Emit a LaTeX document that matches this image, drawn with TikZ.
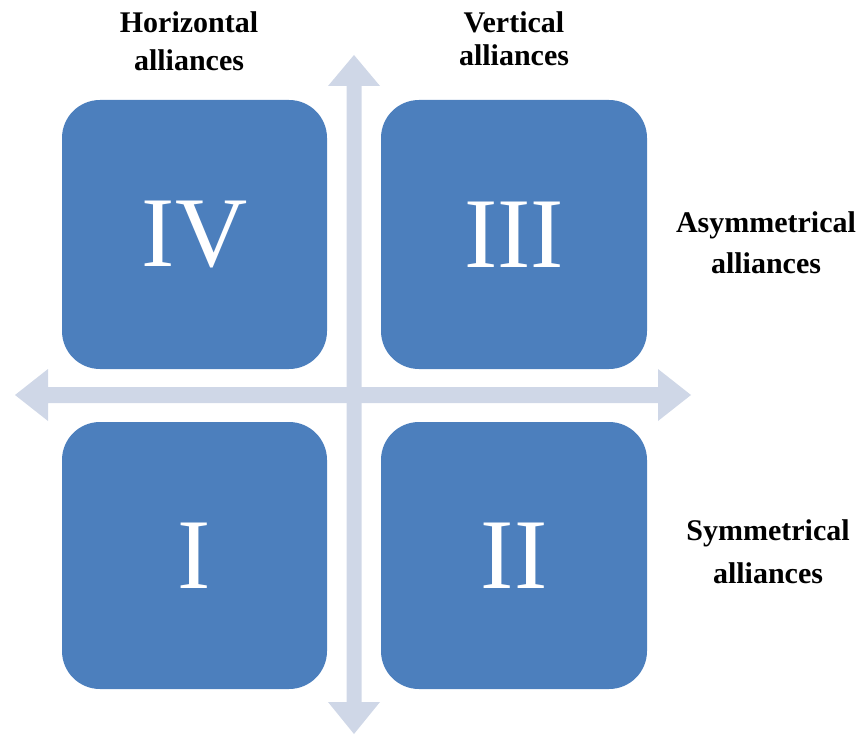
\documentclass[tikz,border=0pt]{standalone}
\usepackage{fontspec}
\setmainfont{Liberation Serif}
\definecolor{boxblue}{HTML}{4C7FBD}
\definecolor{axisgray}{HTML}{CFD7E7}
\begin{document}
\begin{tikzpicture}[x=1pt,y=-1pt,
  quad/.style={fill=boxblue, draw=none, rounded corners=38pt, inner sep=0pt,
    text=white, font=\fontsize{100}{100}\selectfont},
  lbl/.style={inner sep=0pt, align=center, text=black},
  axis/.style={fill=axisgray, draw=none}]
\useasboundingbox (0,0) rectangle (864,735);
% axes
\fill[axis] (354,55) -- (380,86) -- (361.5,86) -- (361.5,702) -- (380,702) -- (354,734)
  -- (328,702) -- (346.5,702) -- (346.5,86) -- (328,86) -- cycle;
\fill[axis] (15,395) -- (48,369) -- (48,387) -- (658,387) -- (658,369) -- (691,395)
  -- (658,421) -- (658,403) -- (48,403) -- (48,421) -- cycle;
% quadrants
\node[quad, minimum width=265pt, minimum height=269pt] (q4) at (194.5,234.5) {IV};
\node[quad, minimum width=266pt, minimum height=269pt] (q3) at (514,234.5) {III};
\node[quad, minimum width=265pt, minimum height=267pt] (q1) at (194.5,555.5) {I};
\node[quad, minimum width=266pt, minimum height=267pt] (q2) at (514,555.5) {II};
% labels
\node[lbl, font=\fontsize{30}{38}\selectfont\bfseries] (h) at (189,40.75) {Horizontal\\alliances};
\node[lbl, font=\fontsize{30}{33}\selectfont\bfseries] (v) at (514,38.25) {Vertical\\alliances};
\node[lbl, font=\fontsize{30}{41}\selectfont\bfseries] (a) at (766,242.25) {Asymmetrical\\alliances};
\node[lbl, font=\fontsize{30}{43}\selectfont\bfseries] (s) at (768,551.25) {Symmetrical\\alliances};
\end{tikzpicture}
\end{document}
